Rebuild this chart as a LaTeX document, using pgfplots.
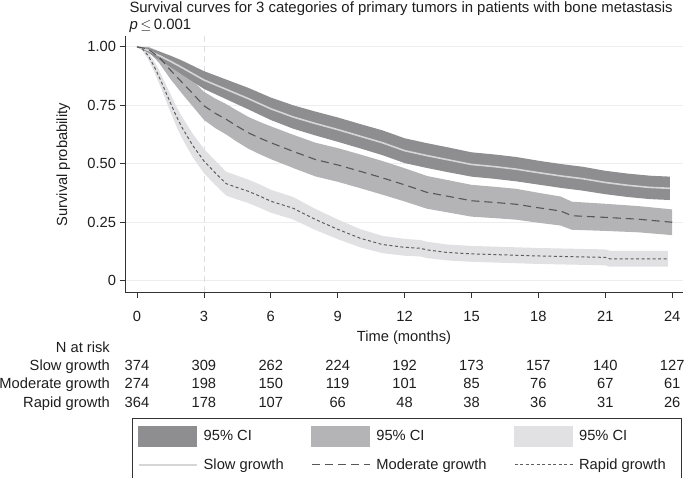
\documentclass[border=0pt]{standalone}
\usepackage{fontspec}
\setmainfont{Liberation Sans}
\usepackage{pgfplots}
\pgfplotsset{compat=1.18}
\usepackage{pgfplotstable}
\usepgfplotslibrary{fillbetween}
\definecolor{slowci}{HTML}{8E8E90}
\definecolor{modci}{HTML}{B4B4B6}
\definecolor{rapci}{HTML}{E1E1E3}
\definecolor{slowln}{HTML}{D6D6D6}
\definecolor{modln}{HTML}{575757}
\definecolor{rapln}{HTML}{5E5E5E}
\definecolor{txt}{HTML}{1E1E1E}
\newcommand{\fs}{\fontsize{14.7bp}{17.6bp}\selectfont}
\newcommand{\ft}{\fontsize{14.9bp}{17.8bp}\selectfont}

\pgfplotstableread{
t est lo hi
0 1.000 1.000 1.000
0.5 0.985 0.975 0.995
1 0.962 0.944 0.980
1.5 0.938 0.914 0.962
2 0.912 0.882 0.942
2.5 0.885 0.851 0.919
3 0.858 0.820 0.896
4 0.818 0.776 0.860
5 0.778 0.732 0.824
6 0.735 0.687 0.783
7 0.700 0.650 0.750
8 0.672 0.621 0.723
9 0.646 0.594 0.698
10 0.618 0.566 0.670
11 0.590 0.537 0.643
12 0.556 0.503 0.609
13 0.535 0.482 0.588
14 0.516 0.463 0.569
15 0.497 0.445 0.549
16 0.488 0.436 0.540
17 0.477 0.425 0.529
18 0.462 0.411 0.513
19 0.448 0.397 0.499
20 0.436 0.385 0.487
21 0.420 0.370 0.470
22 0.408 0.358 0.458
23 0.399 0.349 0.449
23.9 0.395 0.345 0.445
}\slow

\pgfplotstableread{
t est lo hi
0 1.000 1.000 1.000
0.5 0.990 0.980 1.000
1 0.955 0.930 0.980
1.5 0.900 0.862 0.938
2 0.850 0.802 0.898
2.5 0.800 0.745 0.855
3 0.748 0.688 0.808
3.5 0.716 0.653 0.779
4 0.690 0.625 0.755
4.5 0.660 0.593 0.727
5 0.632 0.564 0.700
5.5 0.610 0.541 0.679
6 0.590 0.520 0.660
7 0.553 0.482 0.624
8 0.518 0.446 0.590
9 0.495 0.423 0.567
10 0.468 0.396 0.540
11 0.440 0.368 0.512
12 0.410 0.339 0.481
13 0.378 0.308 0.448
14 0.360 0.291 0.429
15 0.342 0.274 0.410
16 0.335 0.268 0.402
17 0.327 0.261 0.393
18 0.312 0.248 0.376
19 0.298 0.236 0.360
19.5 0.278 0.218 0.338
21 0.271 0.213 0.329
22.5 0.263 0.207 0.319
24 0.250 0.195 0.305
}\moderate

\pgfplotstableread{
t est lo hi
0 1.000 1.000 1.000
0.25 0.990 0.982 0.998
0.5 0.962 0.947 0.977
0.75 0.920 0.898 0.942
1 0.870 0.842 0.898
1.25 0.815 0.782 0.848
1.5 0.760 0.722 0.798
1.75 0.706 0.664 0.748
2 0.658 0.612 0.704
2.5 0.578 0.528 0.628
3 0.512 0.460 0.564
3.5 0.462 0.410 0.514
4 0.415 0.364 0.466
4.5 0.398 0.347 0.449
5 0.382 0.332 0.432
5.5 0.362 0.312 0.412
6 0.340 0.291 0.389
7 0.310 0.262 0.358
8 0.262 0.217 0.307
9 0.220 0.178 0.262
10 0.182 0.143 0.221
11 0.155 0.118 0.192
12 0.143 0.107 0.179
12.7 0.139 0.104 0.174
13 0.132 0.097 0.167
13.9 0.121 0.087 0.155
15 0.115 0.081 0.149
18 0.106 0.072 0.140
21 0.100 0.066 0.134
21.2 0.094 0.060 0.128
23.8 0.094 0.060 0.128
}\rapid

\begin{document}
\begin{tikzpicture}[every node/.style={text=txt}]
\path (0,0) rectangle (685bp,-478bp);
\begin{axis}[
  at={(125bp,-292bp)}, anchor=south west,
  scale only axis, width=558bp, height=256bp,
  xmin=-0.538, xmax=24.484, ymin=-0.048, ymax=1.046,
  axis x line*=bottom, axis y line*=left,
  axis line style={-, draw=black!80, line width=0.9bp},
  xtick={0,3,...,24},
  ytick={0,0.25,0.5,0.75,1},
  yticklabels={0,0.25,0.50,0.75,1.00},
  tick align=outside, major tick length=5.5bp,
  tick style={draw=black!80, line width=0.8bp},
  ymajorgrids, grid style={draw=black!7, line width=0.8bp},
  extra x ticks={3}, extra x tick labels={},
  extra x tick style={grid=major, major tick length=0pt,
     major grid style={draw=black!13, line width=0.8bp, dash pattern=on 6bp off 4bp}},
  /pgf/number format/assume math mode=true,
  tick label style={font=\fs, text=txt},
  xticklabel style={yshift=-10bp},
  xlabel={Time (months)},
  xlabel style={font=\fs, at={(axis description cs:0.5,-0.18)}, anchor=center},
  ylabel={Survival probability},
  ylabel style={font=\fs, at={(axis description cs:-0.1106,0.497)}, anchor=center},
  clip=false,
  legend columns=3,
  legend cell align=left,
  legend style={at={(axis description cs:0.012,-0.492)}, anchor=north west,
     draw=black!80, line width=0.8bp, font=\fs, inner xsep=6bp, inner ysep=7.5bp,
     /tikz/every odd column/.append style={column sep=4bp},
     /tikz/every even column/.append style={column sep=25.5bp},
     row sep=10bp},
]
\addplot[draw=none, name path=rh, forget plot] table[x=t,y=hi]{\rapid};
\addplot[draw=none, name path=rl, forget plot] table[x=t,y=lo]{\rapid};
\addplot[fill=rapci, draw=none, forget plot] fill between[of=rh and rl];
\addplot[draw=none, name path=mh, forget plot] table[x=t,y=hi]{\moderate};
\addplot[draw=none, name path=ml, forget plot] table[x=t,y=lo]{\moderate};
\addplot[fill=modci, draw=none, forget plot] fill between[of=mh and ml];
\addplot[draw=none, name path=sh, forget plot] table[x=t,y=hi]{\slow};
\addplot[draw=none, name path=sl, forget plot] table[x=t,y=lo]{\slow};
\addplot[fill=slowci, draw=none, forget plot] fill between[of=sh and sl];
\addplot[slowln, line width=1.6bp, forget plot] table[x=t,y=est]{\slow};
\addplot[modln, line width=1.1bp, dash pattern=on 8bp off 5bp, forget plot] table[x=t,y=est]{\moderate};
\addplot[rapln, line width=1bp, dash pattern=on 3bp off 2.5bp, forget plot] table[x=t,y=est]{\rapid};

\addlegendimage{legend image code/.code={\fill[slowci] (0bp,-10bp) rectangle (58bp,10bp);}}
\addlegendentry{95\% CI}
\addlegendimage{legend image code/.code={\fill[modci] (0bp,-10bp) rectangle (58bp,10bp);}}
\addlegendentry{95\% CI}
\addlegendimage{legend image code/.code={\fill[rapci] (0bp,-10bp) rectangle (58bp,10bp);}}
\addlegendentry{\makebox[94bp][l]{95\% CI}}
\addlegendimage{legend image code/.code={\draw[slowln, line width=1.6bp] (0bp,0bp) -- (58bp,0bp);}}
\addlegendentry{Slow growth}
\addlegendimage{legend image code/.code={\draw[modln, line width=1.1bp, dash pattern=on 8bp off 5bp] (0bp,0bp) -- (58bp,0bp);}}
\addlegendentry{Moderate growth}
\addlegendimage{legend image code/.code={\draw[rapln, line width=1bp, dash pattern=on 3bp off 2.5bp] (0bp,0bp) -- (58bp,0bp);}}
\addlegendentry{\makebox[94bp][l]{Rapid growth}}
\end{axis}

\node[font=\ft, anchor=base west, inner sep=0] at (129.3bp,-12.3bp)
  {Survival curves for 3 categories of primary tumors in patients with bone metastasis};
\node[font=\ft, anchor=base west, inner sep=0] at (129.3bp,-29.3bp)
  {\textit{p}\,$\leq$\,0.001};

\node[font=\fs, anchor=base east, inner sep=0] at (110bp,-352bp) {N at risk};
\node[font=\fs, anchor=base east, inner sep=0] at (110bp,-370.4bp) {Slow growth};
\node[font=\fs, anchor=base east, inner sep=0] at (110bp,-388.7bp) {Moderate growth};
\node[font=\fs, anchor=base east, inner sep=0] at (110bp,-407.1bp) {Rapid growth};
\foreach \x/\a/\b/\c in {137.0/374/274/364, 203.9/309/198/178, 270.8/262/150/107,
   337.7/224/119/66, 404.6/192/101/48, 471.5/173/85/38, 538.4/157/76/36,
   605.3/140/67/31, 672.2/127/61/26}{
  \node[font=\fs, anchor=base, inner sep=0] at (\x bp,-370.4bp) {\a};
  \node[font=\fs, anchor=base, inner sep=0] at (\x bp,-388.7bp) {\b};
  \node[font=\fs, anchor=base, inner sep=0] at (\x bp,-407.1bp) {\c};
}
\pgfresetboundingbox
\path[use as bounding box] (0,0) rectangle (685bp,-478bp);
\end{tikzpicture}
\end{document}
